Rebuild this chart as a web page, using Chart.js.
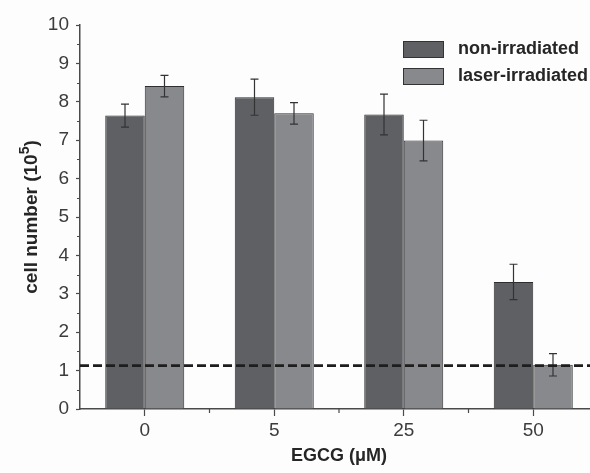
<!DOCTYPE html>
<html>
<head>
<meta charset="utf-8">
<script src="https://cdn.jsdelivr.net/npm/chart.js@4/dist/chart.umd.min.js"></script>
<style>
    html, body { margin: 0; padding: 0; overflow: hidden; background: #fdfdfd; }
    #wrap { width: 598px; height: 473px; }
</style>
</head>
<body>
<div id="wrap"><canvas id="cell-graph"></canvas></div>
<script>
// values (cell number, 10^5)
const categories = ['0', '5', '25', '50'];
const nonIrradiated = [7.64, 8.12, 7.67, 3.31];
const nonIrradiatedErr = [0.30, 0.47, 0.53, 0.46];
const laserIrradiated = [8.41, 7.70, 6.99, 1.15];
const laserIrradiatedErr = [0.28, 0.28, 0.53, 0.29];
const baselineValue = 1.13; // dashed line
const yMin = 0;
const yMax = 10;
const yTitle = ['cell number (10', '5', ')']; // text, superscript, rest

const axisColor = '#4a4a4a';
const textColor = '#3c3c3c';
const fontFamily = '"Liberation Sans", Arial, sans-serif';

// error bars for both series
const errorBars = {
    id: 'errorBars',
    afterDatasetsDraw(chart) {
        const ctx = chart.ctx;
        const y = chart.scales.y;
        ctx.save();
        ctx.strokeStyle = '#333';
        ctx.lineWidth = 1.2;
        chart.data.datasets.forEach((ds, i) => {
            const meta = chart.getDatasetMeta(i);
            meta.data.forEach((bar, j) => {
                const v = ds.data[j];
                const e = ds.errors[j];
                const top = y.getPixelForValue(v + e);
                const bot = y.getPixelForValue(v - e);
                ctx.beginPath();
                ctx.moveTo(bar.x, top);
                ctx.lineTo(bar.x, bot);
                ctx.moveTo(bar.x - 4, top);
                ctx.lineTo(bar.x + 4, top);
                ctx.moveTo(bar.x - 4, bot);
                ctx.lineTo(bar.x + 4, bot);
                ctx.stroke();
            });
        });
        ctx.restore();
    }
};

// dashed reference line across the plot
const baseline = {
    id: 'baseline',
    afterDatasetsDraw(chart) {
        const ctx = chart.ctx;
        const area = chart.chartArea;
        const yPos = chart.scales.y.getPixelForValue(baselineValue);
        ctx.save();
        ctx.strokeStyle = '#1e1e1e';
        ctx.lineWidth = 2.6;
        ctx.setLineDash([9, 4]);
        ctx.beginPath();
        ctx.moveTo(area.left, yPos);
        ctx.lineTo(area.right, yPos);
        ctx.stroke();
        ctx.restore();
    }
};

// minor ticks on both axes
const minorTicks = {
    id: 'minorTicks',
    afterDraw(chart) {
        const ctx = chart.ctx;
        const xs = chart.scales.x;
        const ys = chart.scales.y;
        const area = chart.chartArea;
        ctx.save();
        ctx.strokeStyle = axisColor;
        ctx.lineWidth = 1.2;
        ctx.beginPath();
        for (let v = yMin + 0.5; v < yMax; v += 1) {
            const p = Math.round(ys.getPixelForValue(v)) + 0.5;
            ctx.moveTo(area.left - 3, p);
            ctx.lineTo(area.left, p);
        }
        for (let i = 0; i < categories.length - 1; i++) {
            const p = (xs.getPixelForValue(i) + xs.getPixelForValue(i + 1)) / 2;
            ctx.moveTo(p, area.bottom);
            ctx.lineTo(p, area.bottom + 4);
        }
        ctx.stroke();
        ctx.restore();
    }
};

// y title with a real superscript
const yAxisTitle = {
    id: 'yAxisTitle',
    afterDraw(chart) {
        const ctx = chart.ctx;
        const area = chart.chartArea;
        const big = 'bold 19px ' + fontFamily;
        const small = 'bold 14px ' + fontFamily;
        ctx.save();
        ctx.font = big;
        const w1 = ctx.measureText(yTitle[0]).width;
        const w3 = ctx.measureText(yTitle[2]).width;
        ctx.font = small;
        const w2 = ctx.measureText(yTitle[1]).width;
        const total = w1 + w2 + w3;
        ctx.translate(37, (area.top + area.bottom) / 2);
        ctx.rotate(-Math.PI / 2);
        ctx.fillStyle = '#262626';
        ctx.textBaseline = 'alphabetic';
        ctx.textAlign = 'left';
        let x = -total / 2;
        ctx.font = big;
        ctx.fillText(yTitle[0], x, 0);
        x += w1;
        ctx.font = small;
        ctx.fillText(yTitle[1], x, -8);
        x += w2;
        ctx.font = big;
        ctx.fillText(yTitle[2], x, 0);
        ctx.restore();
    }
};

// legend in the upper right of the plot
const boxLegend = {
    id: 'boxLegend',
    afterDraw(chart) {
        const ctx = chart.ctx;
        const x0 = 403;
        const rows = [49, 76];
        ctx.save();
        ctx.font = 'bold 18px ' + fontFamily;
        ctx.textBaseline = 'middle';
        chart.data.datasets.forEach((ds, i) => {
            const cy = rows[i];
            ctx.fillStyle = ds.backgroundColor;
            ctx.fillRect(x0, cy - 8, 41, 16);
            ctx.strokeStyle = '#333';
            ctx.lineWidth = 1;
            ctx.strokeRect(x0 + 0.5, cy - 8 + 0.5, 40, 16);
            ctx.fillStyle = '#262626';
            ctx.fillText(ds.label, x0 + 55, cy);
        });
        ctx.restore();
    }
};

const ctx = document.getElementById('cell-graph').getContext('2d');

const chart = new Chart(ctx, {
    type: 'bar',
    data: {
        labels: categories,
        datasets: [
            {
                label: 'non-irradiated',
                data: nonIrradiated,
                errors: nonIrradiatedErr,
                backgroundColor: '#5f6064',
                borderColor: '#2e2e2e',
                borderWidth: 1,
                categoryPercentage: 0.61,
                barPercentage: 1.0
            },
            {
                label: 'laser-irradiated',
                data: laserIrradiated,
                errors: laserIrradiatedErr,
                backgroundColor: '#88898d',
                borderColor: '#2e2e2e',
                borderWidth: 1,
                categoryPercentage: 0.61,
                barPercentage: 1.0
            }
        ]
    },
    options: {
        responsive: true,
        maintainAspectRatio: false,
        animation: false,
        layout: { padding: { left: 0, top: 25, right: 0, bottom: 0 } },
        plugins: {
            legend: { display: false },
            tooltip: { enabled: false }
        },
        scales: {
            x: {
                afterFit: (s) => { s.height = 64; },
                grid: {
                    display: true,
                    drawOnChartArea: false,
                    offset: false,
                    tickLength: 7,
                    tickColor: axisColor,
                    tickWidth: 1.2
                },
                border: { color: axisColor, width: 1.5 },
                ticks: {
                    color: textColor,
                    padding: 3,
                    font: { family: fontFamily, size: 19 }
                },
                title: {
                    display: true,
                    text: 'EGCG (μM)',
                    color: '#262626',
                    padding: { top: 0, bottom: 6 },
                    font: { family: fontFamily, size: 18, weight: 'bold' }
                }
            },
            y: {
                min: yMin,
                max: yMax,
                afterFit: (s) => { s.width = 80; },
                grid: {
                    display: true,
                    drawOnChartArea: false,
                    tickLength: 4,
                    tickColor: axisColor,
                    tickWidth: 1.2
                },
                border: { color: axisColor, width: 1.5 },
                ticks: {
                    stepSize: 1,
                    color: textColor,
                    padding: 7,
                    font: { family: fontFamily, size: 19 }
                },
                title: { display: false }
            }
        }
    },
    plugins: [errorBars, baseline, minorTicks, yAxisTitle, boxLegend]
});
</script>
</body>
</html>
